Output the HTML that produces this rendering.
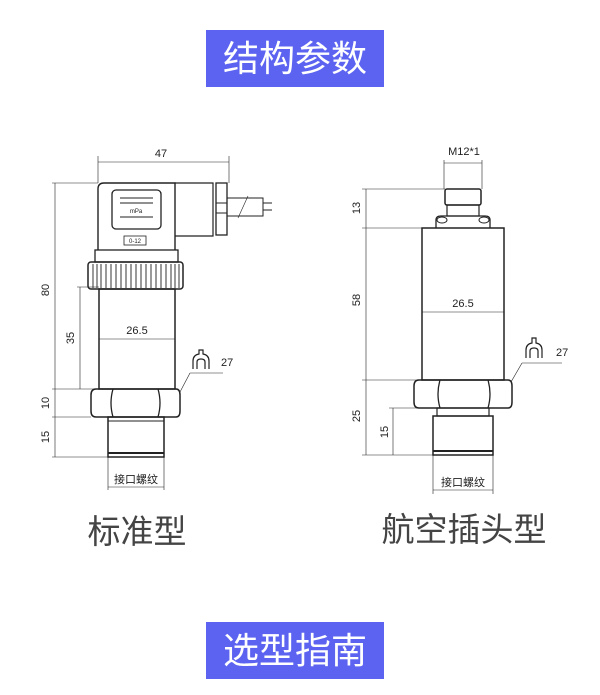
<!DOCTYPE html>
<html><head><meta charset="utf-8"><style>
html,body{margin:0;padding:0;background:#fff;}
svg{display:block}
</style></head><body>
<svg width="600" height="695" viewBox="0 0 600 695" xmlns="http://www.w3.org/2000/svg" font-family="'Liberation Sans','Noto Sans CJK SC',sans-serif">
<rect x="206" y="30" width="178" height="57" fill="#5b63f0"/>
<text x="295" y="71" font-size="36" fill="#fff" text-anchor="middle" font-family="'Noto Sans CJK SC',sans-serif">结构参数</text>
<rect x="206" y="622" width="178" height="57" fill="#5b63f0"/>
<text x="295" y="663" font-size="36" fill="#fff" text-anchor="middle" font-family="'Noto Sans CJK SC',sans-serif">选型指南</text>
<text x="137" y="543" font-size="33" fill="#444" text-anchor="middle" font-family="'Noto Sans CJK SC',sans-serif">标准型</text>
<text x="464" y="541" font-size="33" fill="#444" text-anchor="middle" font-family="'Noto Sans CJK SC',sans-serif">航空插头型</text>

<g stroke="#222" fill="none" stroke-width="1">
<!-- LEFT -->
<line x1="98" y1="162" x2="229" y2="162" stroke-width="0.6"/>
<line x1="98" y1="156" x2="98" y2="183" stroke-width="0.6"/>
<line x1="229" y1="156" x2="229" y2="183" stroke-width="0.6"/>
<path d="M98,250 V189 q0,-6 6,-6 H175 V250" stroke-width="1.4"/>
<rect x="112" y="190" width="49" height="39" rx="4" stroke-width="1.3"/>
<line x1="120" y1="198" x2="153" y2="198"/><line x1="120" y1="203" x2="153" y2="203"/>
<line x1="120" y1="217" x2="153" y2="217"/>
<rect x="124" y="236" width="22" height="9" stroke-width="0.8"/>
<path d="M175,183 H213 V236 H175" stroke-width="1.2"/>
<rect x="216" y="183" width="11" height="52" stroke-width="1.3"/>
<line x1="216" y1="203" x2="227" y2="203"/><line x1="216" y1="213" x2="227" y2="213"/>
<rect x="227" y="198" width="36" height="18"/>
<line x1="263" y1="203" x2="272" y2="203"/><line x1="263" y1="210" x2="272" y2="210"/>
<line x1="238" y1="218" x2="248" y2="196" stroke-width="0.6"/>
<rect x="95" y="250" width="83" height="12" stroke-width="1.3"/>
<rect x="88" y="262" width="95" height="27" rx="3" stroke-width="1.5"/>
<path d="M93,264 V288 M97,264 V288 M101,264 V288 M106,264 V288 M111,264 V288 M116,264 V288 M121,264 V288 M126,264 V288 M131,264 V288 M136,264 V288 M141,264 V288 M146,264 V288 M151,264 V288 M156,264 V288 M161,264 V288 M166,264 V288 M171,264 V288 M175,264 V288 M179,264 V288" stroke-width="0.9"/>
<rect x="99" y="289" width="76" height="100" stroke-width="1.5"/>
<line x1="99" y1="339" x2="175" y2="339" stroke-width="0.6"/>
<path d="M96,389 H176 q4,0 4,6 V411 q0,6 -4,6 H96 q-5,0 -5,-6 V395 q0,-6 5,-6Z" stroke-width="1.5"/>
<path d="M113,389 q-4,14 0,28 M158,389 q4,14 0,28" stroke-width="1.3"/>
<rect x="108" y="417" width="56" height="40" stroke-width="1.5"/>
<line x1="108" y1="421" x2="164" y2="421"/><line x1="108" y1="453" x2="164" y2="453" stroke-width="2"/>
<g stroke-width="0.6">
<line x1="52" y1="183" x2="98" y2="183"/>
<line x1="55" y1="183" x2="55" y2="457"/>
<line x1="52" y1="389" x2="99" y2="389"/>
<line x1="52" y1="417" x2="91" y2="417"/>
<line x1="52" y1="457" x2="108" y2="457"/>
<line x1="77" y1="287" x2="99" y2="287"/>
<line x1="80" y1="287" x2="80" y2="389"/>
<line x1="108" y1="457" x2="108" y2="490"/><line x1="164" y1="457" x2="164" y2="490"/>
<line x1="108" y1="487" x2="164" y2="487"/>
<line x1="180" y1="392" x2="190" y2="373"/><line x1="190" y1="373" x2="223" y2="373"/>
</g>
<path d="M193,369 V361 q0,-6 6,-7 V350 h4 V354 q6,1 6,7 V369 M197,369 V362 q0,-3 4,-3 q4,0 4,3 V369" stroke-width="1.2"/>
<!-- RIGHT -->
<line x1="444" y1="163" x2="482" y2="163" stroke-width="0.6"/>
<line x1="444" y1="160" x2="444" y2="189" stroke-width="0.6"/>
<line x1="482" y1="160" x2="482" y2="189" stroke-width="0.6"/>
<rect x="445" y="189" width="36" height="16" rx="2" stroke-width="1.5"/>
<rect x="447" y="205" width="32" height="11" stroke-width="1.2"/>
<path d="M436,228 V220 q0,-4 5,-4 H485 q5,0 5,4 V228" stroke-width="1.3"/>
<ellipse cx="442" cy="220" rx="5" ry="3"/><ellipse cx="484" cy="220" rx="5" ry="3"/>
<rect x="422" y="228" width="82" height="152" stroke-width="1.5"/>
<line x1="422" y1="312" x2="504" y2="312" stroke-width="0.6"/>
<path d="M419,380 H508 q4,0 4,6 V402 q0,6 -4,6 H419 q-5,0 -5,-6 V386 q0,-6 5,-6Z" stroke-width="1.5"/>
<path d="M440,380 q-4,14 0,28 M488,380 q4,14 0,28" stroke-width="1.3"/>
<rect x="437" y="408" width="52" height="8" stroke-width="1.2"/>
<rect x="433" y="416" width="60" height="39" stroke-width="1.5"/>
<line x1="433" y1="451" x2="493" y2="451" stroke-width="2"/>
<g stroke-width="0.6">
<line x1="362" y1="189" x2="445" y2="189"/>
<line x1="366" y1="189" x2="366" y2="455"/>
<line x1="362" y1="228" x2="422" y2="228"/>
<line x1="362" y1="380" x2="422" y2="380"/>
<line x1="362" y1="455" x2="433" y2="455"/>
<line x1="389" y1="408" x2="437" y2="408"/>
<line x1="393" y1="408" x2="393" y2="455"/>
<line x1="433" y1="455" x2="433" y2="494"/><line x1="493" y1="455" x2="493" y2="494"/>
<line x1="433" y1="490" x2="493" y2="490"/>
<line x1="511" y1="382" x2="522" y2="363"/><line x1="522" y1="363" x2="562" y2="363"/>
</g>
<path d="M526,358 V350 q0,-6 6,-7 V338 h4 V343 q6,1 6,7 V358 M530,358 V351 q0,-3 4,-3 q4,0 4,3 V358" stroke-width="1.2"/>
</g>
<g fill="#222" font-size="11">
<text x="161" y="157" text-anchor="middle">47</text>
<text x="137" y="334" text-anchor="middle">26.5</text>
<text x="221" y="366">27</text>
<text transform="translate(49,290) rotate(-90)" text-anchor="middle">80</text>
<text transform="translate(74,338) rotate(-90)" text-anchor="middle">35</text>
<text transform="translate(49,403) rotate(-90)" text-anchor="middle">10</text>
<text transform="translate(49,437) rotate(-90)" text-anchor="middle">15</text>
<text x="136" y="483" text-anchor="middle" font-size="11" font-family="'Noto Sans CJK SC',sans-serif">接口螺纹</text>
<text x="464" y="155" text-anchor="middle">M12*1</text>
<text x="463" y="307" text-anchor="middle">26.5</text>
<text x="556" y="356">27</text>
<text transform="translate(360,208) rotate(-90)" text-anchor="middle">13</text>
<text transform="translate(360,300) rotate(-90)" text-anchor="middle">58</text>
<text transform="translate(360,416) rotate(-90)" text-anchor="middle">25</text>
<text transform="translate(388,432) rotate(-90)" text-anchor="middle">15</text>
<text x="463" y="486" text-anchor="middle" font-size="11" font-family="'Noto Sans CJK SC',sans-serif">接口螺纹</text>
<text x="136" y="213" text-anchor="middle" font-size="6">mPa</text>
<text x="135" y="243" text-anchor="middle" font-size="6">0-12</text>
</g>
</svg>
</body></html>
